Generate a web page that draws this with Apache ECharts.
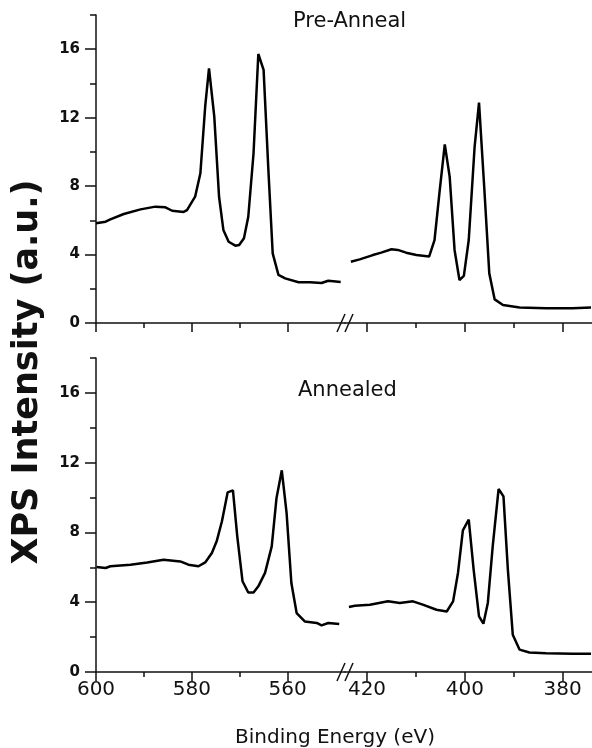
<!DOCTYPE html>
<html>
<head>
<meta charset="utf-8">
<script src="https://cdn.jsdelivr.net/npm/echarts@6/dist/echarts.min.js"></script>
<style>
  html, body { margin: 0; padding: 0; background: #fff; }
  #chart { width: 592px; height: 748px; }
</style>
</head>
<body>
<div id="chart"></div>
<script>
// binding energy (eV) / intensity (a.u.)
// Pre-Anneal, high energy window (600 - 548 eV)
const preHighE = [600, 598, 597, 594.2, 590.7, 587.6, 585.5, 584.1, 581.7, 581, 579.3, 578.2, 577.2, 576.4, 575.3, 574.3, 573.4, 572.3, 570.9, 570.1, 569.1, 568.2, 567.1, 566.1, 565.0, 564.0, 563.1, 561.9, 560.5, 557.7, 555.3, 552.9, 551.5, 548.9];
const preHighI = [5.83, 5.92, 6.06, 6.37, 6.64, 6.80, 6.76, 6.56, 6.49, 6.6, 7.38, 8.75, 12.64, 14.88, 12.06, 7.38, 5.44, 4.75, 4.52, 4.56, 4.95, 6.21, 9.92, 15.72, 14.79, 8.94, 4.07, 2.81, 2.61, 2.38, 2.38, 2.34, 2.47, 2.40];
// Pre-Anneal, low energy window (424 - 374 eV)
const preLowE = [423.3, 421.5, 418.8, 417.1, 415.0, 413.7, 412.0, 409.9, 407.3, 406.2, 405.2, 404.1, 403.1, 402.1, 401.1, 400.2, 399.2, 398.0, 397.1, 396.0, 395.0, 393.9, 392.2, 388.8, 383.4, 378.0, 374.2];
const preLowI = [3.58, 3.72, 3.97, 4.11, 4.31, 4.27, 4.11, 3.97, 3.88, 4.85, 7.58, 10.44, 8.55, 4.27, 2.51, 2.75, 4.85, 10.30, 12.88, 7.77, 2.90, 1.38, 1.05, 0.90, 0.86, 0.86, 0.90];
// Annealed, high energy window
const annHighE = [599.9, 598, 597, 592.8, 589.3, 585.9, 582.4, 580.7, 578.6, 577.2, 575.8, 574.8, 573.7, 572.5, 571.4, 570.5, 569.4, 568.2, 567.1, 566.1, 564.7, 563.3, 562.3, 561.2, 560.2, 559.2, 558.1, 556.4, 553.9, 552.9, 551.5, 549.2];
const annHighI = [6.02, 5.96, 6.06, 6.15, 6.28, 6.44, 6.34, 6.15, 6.06, 6.28, 6.82, 7.49, 8.64, 10.30, 10.41, 7.78, 5.20, 4.56, 4.56, 4.91, 5.68, 7.20, 9.98, 11.56, 9.12, 5.10, 3.38, 2.90, 2.81, 2.67, 2.81, 2.75];
// Annealed, low energy window
const annLowE = [423.7, 422.5, 419.4, 415.7, 413.3, 410.6, 408.6, 405.8, 403.7, 402.4, 401.4, 400.4, 399.2, 398.2, 397.1, 396.2, 395.3, 394.3, 393.1, 392.1, 391.2, 390.2, 388.8, 386.8, 383.4, 378.0, 374.2];
const annLowI = [3.73, 3.80, 3.86, 4.05, 3.96, 4.05, 3.86, 3.57, 3.47, 4.05, 5.68, 8.12, 8.73, 5.87, 3.19, 2.77, 3.96, 7.20, 10.49, 10.07, 5.87, 2.14, 1.28, 1.12, 1.07, 1.05, 1.05];

const highMajor = [600, 580, 560];
const highMinor = [590, 570];
const lowMajor = [420, 400, 380];
const lowMinor = [410, 390];
const yMajor = [0, 4, 8, 12, 16];
const yMinor = [2, 6, 10, 14, 18];
const panelNames = ['Pre-Anneal', 'Annealed'];

const zip = (xs, ys) => xs.map((x, i) => [x, ys[i]]);

const FONT = 'DejaVu Sans';
const INK = '#111';
const axisX0 = 96, breakX = 345, chartW = 592;
const panels = [
  { top: 15, height: 308, showLabels: false, high: zip(preHighE, preHighI), low: zip(preLowE, preLowI) },
  { top: 358, height: 314, showLabels: true, high: zip(annHighE, annHighI), low: zip(annLowE, annLowI) }
];

let grid = [], xAxis = [], yAxis = [], series = [], graphic = [];

function xPair(gi, min, max, major, minor, showLabels) {
  xAxis.push({
    type: 'value', gridIndex: gi, position: 'bottom', min: min, max: max, inverse: true,
    axisLine: { show: true, lineStyle: { color: INK, width: 1.5 } },
    axisTick: { show: true, customValues: major, length: 9, lineStyle: { color: INK, width: 1.5 } },
    axisLabel: { show: showLabels, customValues: major, margin: 8, color: INK, fontFamily: FONT, fontSize: 20 },
    splitLine: { show: false }
  });
  xAxis.push({
    type: 'value', gridIndex: gi, position: 'bottom', min: min, max: max, inverse: true,
    axisLine: { show: false },
    axisTick: { show: true, customValues: minor, length: 5, lineStyle: { color: INK, width: 1.5 } },
    axisLabel: { show: false },
    splitLine: { show: false }
  });
}

panels.forEach((p, k) => {
  const gL = grid.length;
  grid.push({ left: axisX0, top: p.top, width: breakX - axisX0, height: p.height });
  grid.push({ left: breakX, top: p.top, width: chartW - breakX, height: p.height });

  xPair(gL, 548, 600, highMajor, highMinor, p.showLabels);
  xPair(gL + 1, 374, 424.5, lowMajor, lowMinor, p.showLabels);

  const yL = yAxis.length;
  yAxis.push({
    type: 'value', gridIndex: gL, min: 0, max: 18, position: 'left',
    axisLine: { show: true, lineStyle: { color: INK, width: 1.5 } },
    axisTick: { show: true, customValues: yMajor, length: 11, lineStyle: { color: INK, width: 1.5 } },
    axisLabel: { customValues: yMajor, margin: 16, color: INK, fontFamily: FONT, fontWeight: 'bold', fontSize: 15 },
    splitLine: { show: false }
  });
  yAxis.push({
    type: 'value', gridIndex: gL, min: 0, max: 18, position: 'left',
    axisLine: { show: false },
    axisTick: { show: true, customValues: yMinor, length: 6, lineStyle: { color: INK, width: 1.5 } },
    axisLabel: { show: false },
    splitLine: { show: false }
  });
  yAxis.push({ type: 'value', gridIndex: gL + 1, min: 0, max: 18, show: false });

  const xL = k * 4;
  const lineStyle = { color: '#000', width: 2.5 };
  series.push({ type: 'line', xAxisIndex: xL, yAxisIndex: yL, data: p.high, showSymbol: false, lineStyle: lineStyle, animation: false });
  series.push({ type: 'line', xAxisIndex: xL + 2, yAxisIndex: yL + 2, data: p.low, showSymbol: false, lineStyle: lineStyle, animation: false });

  // axis break marks "//"
  const yb = p.top + p.height;
  [-4, 4].forEach(dx => {
    graphic.push({
      type: 'line', z: 100,
      shape: { x1: breakX + dx - 4, y1: yb + 9, x2: breakX + dx + 4, y2: yb - 9 },
      style: { stroke: INK, lineWidth: 1.5 }
    });
  });
});

graphic.push(
  { type: 'text', left: 293, top: 11, style: { text: panelNames[0], font: '21px "' + FONT + '"', fill: INK } },
  { type: 'text', left: 298, top: 380, style: { text: panelNames[1], font: '21px "' + FONT + '"', fill: INK } },
  { type: 'text', x: 28, y: 372, rotation: Math.PI / 2,
    style: { text: 'XPS Intensity (a.u.)', font: 'bold 35px "' + FONT + '"', fill: INK, align: 'center', verticalAlign: 'middle' } },
  { type: 'text', x: 335, y: 738,
    style: { text: 'Binding Energy (eV)', font: '20px "' + FONT + '"', fill: INK, align: 'center', verticalAlign: 'middle' } }
);

const chart = echarts.init(document.getElementById('chart'), null, { renderer: 'canvas' });
chart.setOption({
  backgroundColor: '#fff',
  animation: false,
  grid: grid,
  xAxis: xAxis,
  yAxis: yAxis,
  series: series,
  graphic: graphic
});
</script>
</body>
</html>
